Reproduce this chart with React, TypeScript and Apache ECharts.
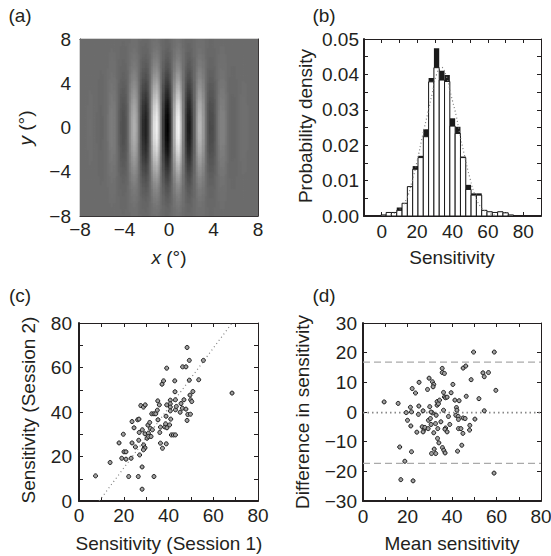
import React, { useEffect, useRef } from 'react';
import * as echarts from 'echarts';

// ---------- Panel (a): Gabor patch (stimulus parameters, degrees) ----------
const GABOR_MIN = -8;
const GABOR_MAX = 8;
const GABOR_PERIOD = 2.0;
const GABOR_DARK_X = -0.15;
const GABOR_SIGMA_X = 2.5;
const GABOR_SIGMA_Y = 3.2;
const GABOR_CELL = 0.2;
const GABOR_BG = 108;

// ---------- Panel (b): histogram ----------
const HIST_BIN_CENTERS = [1, 4, 7, 10, 13, 16, 19, 22, 25, 28, 31, 34, 37, 40, 43, 46, 49, 52, 55, 58, 61, 64, 67, 70, 73];
const HIST_BIN_WIDTH = 3;
const HIST_FRONT = [0.0003, 0.001, 0.001, 0.0016, 0.0036, 0.0083, 0.0132, 0.0165, 0.0224, 0.0379, 0.0419, 0.0384, 0.038, 0.0254, 0.0233, 0.0165, 0.0075, 0.0059, 0.0059, 0.0016, 0.0012, 0.001, 0.0012, 0.0009, 0.0003];
const HIST_BACK = [0.0003, 0.001, 0.0011, 0.0024, 0.0036, 0.0083, 0.0141, 0.017, 0.0245, 0.039, 0.0474, 0.041, 0.0398, 0.0276, 0.0252, 0.0168, 0.0088, 0.0064, 0.0064, 0.0016, 0.0012, 0.001, 0.0012, 0.0009, 0.0003];
const FIT_X = [5, 10, 14, 17, 20, 23, 26, 28.5, 31, 33.7, 36.5, 39, 42, 44, 46.5, 50, 53, 56, 60, 65];
const FIT_Y = [0.0004, 0.0018, 0.0048, 0.0095, 0.0155, 0.0225, 0.029, 0.0345, 0.04, 0.042, 0.0395, 0.0345, 0.0285, 0.0235, 0.0177, 0.0104, 0.0055, 0.0026, 0.0009, 0.0002];

// ---------- Panel (c): test-retest ----------
const SESSION1 = [7.4, 13.9, 19.1, 19.8, 17.9, 20.1, 21.0, 21.0, 23.3, 22.2,
  23.7, 24.6, 23.7, 25.2, 26.5, 26.7, 26.2, 26.8, 26.9, 27.1,
  27.6, 28.8, 29.6, 28.2, 28.3, 28.9, 29.1, 29.5, 28.8, 29.5,
  30.4, 30.8, 31.0, 31.1, 31.6, 31.9, 32.2, 32.5, 32.8, 33.5,
  33.5, 34.3, 35.0, 35.2, 35.3, 35.9, 36.1, 36.4, 36.4, 37.1,
  37.3, 37.8, 38.3, 38.7, 38.9, 39.0, 39.2, 39.3, 39.2, 40.8,
  40.8, 40.8, 41.0, 40.8, 40.5, 41.3, 42.2, 43.1, 42.8, 43.1,
  43.1, 42.9, 43.5, 45.2, 45.6, 46.2, 46.3, 46.9, 47.8, 47.8,
  48.3, 48.3, 48.6, 49.3, 49.3, 49.6, 49.8, 49.9, 50.4, 50.9,
  53.5, 55.6, 68.4, 28.2];
const SESSION2 = [11.3, 17.3, 19.2, 30.0, 26.1, 22.1, 22.1, 18.8, 19.2, 11.0,
  26.1, 32.9, 35.7, 24.3, 11.0, 27.3, 36.5, 36.8, 30.8, 20.7,
  42.9, 42.2, 43.2, 15.3, 32.0, 25.2, 23.6, 23.9, 23.0, 30.2,
  28.2, 34.1, 30.5, 29.0, 35.3, 32.6, 29.0, 39.2, 32.0, 11.0,
  39.2, 39.2, 40.8, 45.0, 36.5, 43.2, 30.8, 33.2, 26.0, 52.5,
  23.7, 54.0, 33.3, 34.7, 38.1, 25.7, 59.7, 32.9, 43.2, 45.3,
  43.7, 42.2, 36.8, 40.5, 34.2, 29.7, 29.7, 29.7, 54.0, 41.0,
  45.5, 49.1, 42.5, 39.9, 43.8, 41.7, 60.3, 45.5, 60.3, 41.3,
  69.0, 36.2, 38.9, 63.2, 54.3, 47.6, 39.0, 45.5, 44.7, 49.2,
  54.5, 63.2, 48.5, 5.3];
const FIT_LINE_X = [9, 68.4];
const FIT_LINE_Y = [0, 80];

// ---------- Panel (d): Bland-Altman ----------
const MEAN_SENS = [9.5, 15.8, 16.5, 18.8, 17.0, 22.5, 19.4, 20.0, 21.3, 21.8,
  21.5, 22.1, 21.8, 23.6, 24.2, 25.1, 24.9, 25.2, 27.0, 26.6,
  27.5, 27.0, 27.8, 29.0, 29.7, 30.0, 29.4, 29.3, 30.3, 30.6,
  31.2, 31.8, 31.5, 31.2, 30.6, 30.8, 32.0, 31.8, 32.7, 32.6,
  32.9, 33.3, 33.3, 33.9, 34.4, 33.6, 33.5, 34.1, 35.0, 35.6,
  35.6, 36.6, 36.2, 36.6, 37.1, 37.8, 36.2, 35.7, 36.3, 36.9,
  37.1, 36.8, 37.8, 38.4, 39.0, 39.6, 40.4, 41.3, 42.0, 42.2,
  41.7, 42.8, 43.2, 42.9, 42.9, 42.5, 44.4, 44.0, 44.9, 45.0,
  45.9, 46.4, 45.0, 46.2, 48.0, 47.9, 48.6, 49.7, 50.3, 52.1,
  53.9, 54.5, 56.4, 54.5, 59.0, 59.7, 58.9];
const DIFF_SENS = [3.4, 2.9, -11.8, -16.6, -22.8, -23.2, -0.2, -2.8, 1.6, 0.05,
  -4.7, 7.9, -13.4, 6.4, -6.8, 2.0, -0.8, 10.0, 0.4, -5.0,
  -5.9, -6.7, -5.2, 7.6, 11.4, 1.8, -2.8, -5.6, -2.2, -4.2,
  10.2, 9.3, 8.5, -0.3, 0.0, -14.0, -12.5, -7.0, -14.0, -3.9,
  -1.1, 3.5, 2.3, 2.8, 4.0, -5.6, -8.9, -10.4, -3.3, 14.7,
  13.3, 13.0, 6.6, 5.1, 4.8, 5.0, 0.6, -12.0, -12.9, -13.8,
  -5.4, -5.8, -6.7, -1.5, -4.2, 6.5, 9.3, 4.0, 1.5, 0.6,
  -1.1, -1.5, 3.8, -2.5, -5.6, -13.2, -11.2, -5.6, -7.2, -2.0,
  -2.2, 5.3, 14.8, 15.5, -4.5, -6.1, 10.9, 20.2, -2.4, 4.5,
  13.2, 11.9, 13.3, 0.4, 20.2, 7.3, -20.6];
const MEAN_DIFF = -0.2;
const LOA_UPPER = 16.8;
const LOA_LOWER = -17.3;

// ---------- styling ----------
const FONT = "'Liberation Sans', Arial, Helvetica, sans-serif";
const INK = '#231f20';
const FS = 19;

const gaborCells: number[][] = [];
const nCells = Math.round((GABOR_MAX - GABOR_MIN) / GABOR_CELL);
for (let i = 0; i < nCells; i++) {
  for (let j = 0; j < nCells; j++) {
    const x = GABOR_MIN + (i + 0.5) * GABOR_CELL;
    const y = GABOR_MIN + (j + 0.5) * GABOR_CELL;
    const env = Math.exp(-(x * x) / (2 * GABOR_SIGMA_X * GABOR_SIGMA_X) - (y * y) / (2 * GABOR_SIGMA_Y * GABOR_SIGMA_Y));
    const v = -env * Math.cos((2 * Math.PI * (x - GABOR_DARK_X)) / GABOR_PERIOD);
    gaborCells.push([x, y, v]);
  }
}

const fmt = (step: number, digits = 0) => (v: number) => {
  const r = v / step;
  if (Math.abs(r - Math.round(r)) > 1e-6) return '';
  const s = Math.abs(v).toFixed(digits);
  return v < -1e-9 ? '\u2212' + s : s;
};

function axis(grid: number, position: string, min: number, max: number, interval: number,
  label: null | { step: number; digits?: number; margin: number }, lineW: number, minor = 0) {
  return {
    type: 'value', gridIndex: grid, position, min, max, interval,
    axisLine: { show: true, onZero: false, lineStyle: { color: INK, width: lineW } },
    axisTick: { show: true, inside: true, length: 4, lineStyle: { color: INK, width: 1 } },
    minorTick: minor ? { show: true, splitNumber: minor, length: 2, lineStyle: { color: INK, width: 1 } } : { show: false },
    splitLine: { show: false },
    minorSplitLine: { show: false },
    axisLabel: label ? {
      show: true, margin: label.margin, color: INK, fontFamily: FONT, fontSize: FS,
      showMinLabel: true, showMaxLabel: true, hideOverlap: false,
      formatter: fmt(label.step, label.digits ?? 0),
    } : { show: false },
  };
}

const txt = (text: string, x: number, y: number, rot = false, rich?: any) => ({
  type: 'text', x, y, rotation: rot ? Math.PI / 2 : 0,
  style: { text, fill: INK, fontFamily: FONT, fontSize: FS, align: 'center', verticalAlign: 'middle', rich },
});

const italic = { i: { fontStyle: 'italic', fontFamily: FONT, fontSize: FS, fill: INK } };

const histRect = (fill: string, stroke?: string) => (params: any, api: any) => {
  const c = api.value(0), h = api.value(1);
  const p0 = api.coord([c - HIST_BIN_WIDTH / 2, h]);
  const p1 = api.coord([c + HIST_BIN_WIDTH / 2, 0]);
  return {
    type: 'rect',
    shape: { x: p0[0], y: p0[1], width: p1[0] - p0[0], height: p1[1] - p0[1] },
    style: stroke ? { fill, stroke, lineWidth: 1 } : { fill },
  };
};

const option: any = {
  animation: false,
  backgroundColor: '#ffffff',
  grid: [
    { left: 80, top: 39, width: 178, height: 177, outerBoundsMode: 'none' },
    { left: 364, top: 39, width: 177, height: 177, outerBoundsMode: 'none' },
    { left: 79, top: 323, width: 179, height: 178, outerBoundsMode: 'none' },
    { left: 363, top: 323, width: 178, height: 178, outerBoundsMode: 'none' },
  ],
  xAxis: [
    axis(0, 'bottom', -8, 8, 4, { step: 4, margin: 4 }, 1, 12),
    axis(0, 'top', -8, 8, 4, null, 1, 12),
    axis(1, 'bottom', -10, 90, 10, { step: 20, margin: 6 }, 2),
    axis(1, 'top', -10, 90, 10, null, 1),
    axis(2, 'bottom', 0, 80, 10, { step: 20, margin: 5 }, 2),
    axis(2, 'top', 0, 80, 10, null, 1),
    axis(3, 'bottom', 0, 80, 10, { step: 20, margin: 6 }, 2),
    axis(3, 'top', 0, 80, 10, null, 1),
  ],
  yAxis: [
    axis(0, 'left', -8, 8, 4, { step: 4, margin: 9 }, 1, 12),
    axis(0, 'right', -8, 8, 4, null, 1, 12),
    axis(1, 'left', 0, 0.05, 0.005, { step: 0.01, digits: 2, margin: 5 }, 2),
    axis(1, 'right', 0, 0.05, 0.005, null, 1),
    axis(2, 'left', 0, 80, 10, { step: 20, margin: 7 }, 2),
    axis(2, 'right', 0, 80, 10, null, 1),
    axis(3, 'left', -30, 30, 10, { step: 10, margin: 6 }, 2),
    axis(3, 'right', -30, 30, 10, null, 1),
  ],
  series: [
    {
      type: 'custom', xAxisIndex: 0, yAxisIndex: 0, z: 1, progressive: 0,
      data: gaborCells,
      renderItem: (params: any, api: any) => {
        const x = api.value(0), y = api.value(1), v = api.value(2);
        const p0 = api.coord([x - GABOR_CELL / 2, y + GABOR_CELL / 2]);
        const p1 = api.coord([x + GABOR_CELL / 2, y - GABOR_CELL / 2]);
        const x0 = Math.round(p0[0]), y0 = Math.round(p0[1]);
        const x1 = Math.round(p1[0]), y1 = Math.round(p1[1]);
        const g = Math.round(v >= 0 ? GABOR_BG + v * (255 - GABOR_BG) : GABOR_BG * (1 + v));
        const c = `rgb(${g},${g},${g})`;
        return { type: 'rect', shape: { x: x0, y: y0, width: x1 - x0, height: y1 - y0 }, style: { fill: c, stroke: c, lineWidth: 0.6 } };
      },
    },
    {
      type: 'custom', xAxisIndex: 2, yAxisIndex: 2, z: 2,
      data: HIST_BIN_CENTERS.map((c, i) => [c, HIST_BACK[i]]),
      renderItem: histRect('#1a1a1a'),
    },
    {
      type: 'custom', xAxisIndex: 2, yAxisIndex: 2, z: 3,
      data: HIST_BIN_CENTERS.map((c, i) => [c, HIST_FRONT[i]]),
      renderItem: histRect('#ffffff', '#1a1a1a'),
    },
    {
      type: 'line', xAxisIndex: 2, yAxisIndex: 2, z: 4, smooth: true, symbol: 'none',
      data: FIT_X.map((x, i) => [x, FIT_Y[i]]),
      lineStyle: { color: '#808080', width: 1.2, type: [1, 2.5] },
    },
    {
      type: 'line', xAxisIndex: 4, yAxisIndex: 4, z: 2, symbol: 'none',
      data: FIT_LINE_X.map((x, i) => [x, FIT_LINE_Y[i]]),
      lineStyle: { color: '#808080', width: 1.2, type: [1, 3] },
    },
    {
      type: 'scatter', xAxisIndex: 4, yAxisIndex: 4, z: 3, symbol: 'circle', symbolSize: 4,
      data: SESSION1.map((x, i) => [x, SESSION2[i]]),
      itemStyle: { color: '#a0a0a0', borderColor: '#1a1a1a', borderWidth: 1, opacity: 1 },
    },
    {
      type: 'line', xAxisIndex: 6, yAxisIndex: 6, z: 2, symbol: 'none',
      data: [[0, LOA_UPPER], [80, LOA_UPPER]],
      lineStyle: { color: '#aaaaaa', width: 1.2, type: [7, 4] },
    },
    {
      type: 'line', xAxisIndex: 6, yAxisIndex: 6, z: 2, symbol: 'none',
      data: [[0, LOA_LOWER], [80, LOA_LOWER]],
      lineStyle: { color: '#aaaaaa', width: 1.2, type: [7, 4] },
    },
    {
      type: 'line', xAxisIndex: 6, yAxisIndex: 6, z: 2, symbol: 'none',
      data: [[0, MEAN_DIFF], [80, MEAN_DIFF]],
      lineStyle: { color: '#888888', width: 1.8, type: [1.5, 3] },
    },
    {
      type: 'scatter', xAxisIndex: 6, yAxisIndex: 6, z: 3, symbol: 'circle', symbolSize: 4,
      data: MEAN_SENS.map((x, i) => [x, DIFF_SENS[i]]),
      itemStyle: { color: '#a0a0a0', borderColor: '#1a1a1a', borderWidth: 1, opacity: 1 },
    },
  ],
  graphic: [
    txt('(a)', 20, 15),
    txt('(b)', 324, 15),
    txt('(c)', 20, 295),
    txt('(d)', 324, 295),
    txt('{i|y} (°)', 25, 128, true, italic),
    txt('{i|x} (°)', 169, 257, false, italic),
    txt('Probability density', 305, 126, true),
    txt('Sensitivity', 452, 257),
    txt('Sensitivity (Session 2)', 28, 410, true),
    txt('Sensitivity (Session 1)', 169, 543),
    txt('Difference in sensitivity', 302, 412, true),
    txt('Mean sensitivity', 452, 543),
  ],
};

export default function App() {
  const ref = useRef<HTMLDivElement>(null);
  useEffect(() => {
    const chart = echarts.init(ref.current!, null, { renderer: 'svg' });
    chart.setOption(option);
    return () => chart.dispose();
  }, []);
  return <div ref={ref} style={{ position: 'fixed', left: 0, top: 0, width: 551, height: 556, background: '#fff' }} />;
}
